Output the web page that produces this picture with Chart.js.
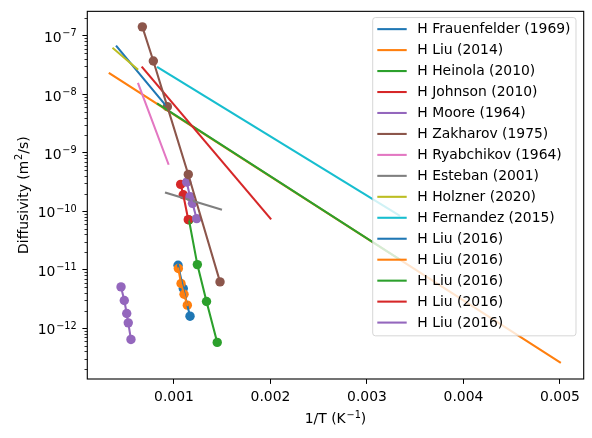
<!DOCTYPE html>
<html>
<head>
<meta charset="utf-8">
<script src="https://cdn.jsdelivr.net/npm/chart.js@4"></script>
<style>
  html, body { margin: 0; padding: 0; background: #fff; }
  #plot { display: block; }
</style>
</head>
<body>
<canvas id="plot" width="592" height="438"></canvas>
<script>
// values (x = 1/T in 1/K, y = diffusivity in m2/s)
const frauenfelderX = [0.000406, 0.000907];
const frauenfelderY = [6.56e-8, 6.65e-9];
const liu2014X = [0.000333, 0.005];
const liu2014Y = [2.28e-8, 2.6e-13];
const heinolaX = [0.000833, 0.003333];
const heinolaY = [6.82e-9, 1.52e-11];
const johnsonX = [0.000672, 0.002];
const johnsonY = [2.88e-8, 7.45e-11];
const mooreX = [0.000451, 0.000485, 0.00051, 0.000526, 0.000554];
const mooreY = [5.07e-12, 2.97e-12, 1.78e-12, 1.23e-12, 6.4e-13];
const zakharovX = [0.000672, 0.000786, 0.000931, 0.001148, 0.001477];
const zakharovY = [1.42e-7, 3.7e-8, 6.14e-9, 4.25e-10, 6.17e-12];
const ryabchikovX = [0.00063, 0.000941];
const ryabchikovY = [1.5e-8, 6.47e-10];
const estebanX = [0.000917, 0.001487];
const estebanY = [2.07e-10, 1.07e-10];
const holznerX = [0.000371, 0.00062];
const holznerY = [6.07e-8, 2.7e-8];
const fernandezX = [0.000833, 0.003333];
const fernandezY = [2.88e-8, 8.47e-11];
const liu16aX = [0.001042, 0.001096, 0.001166];
const liu16aY = [1.19e-11, 4.76e-12, 1.6e-12];
const liu16bX = [0.001045, 0.001073, 0.001104, 0.001138];
const liu16bY = [1.045e-11, 5.79e-12, 3.8e-12, 2.47e-12];
const liu16cX = [0.001155, 0.001242, 0.001337, 0.001448];
const liu16cY = [7.1e-11, 1.22e-11, 2.85e-12, 5.7e-13];
const liu16dX = [0.001069, 0.001096, 0.001148];
const liu16dY = [2.87e-10, 1.91e-10, 7.16e-11];
const liu16eX = [0.001132, 0.001166, 0.001192, 0.001235];
const liu16eY = [3.14e-10, 1.77e-10, 1.36e-10, 7.45e-11];

const xTicks = [0.001, 0.002, 0.003, 0.004, 0.005];
const yTicks = [1e-12, 1e-11, 1e-10, 1e-9, 1e-8, 1e-7];

const tab10 = ["#1f77b4", "#ff7f0e", "#2ca02c", "#d62728", "#9467bd",
  "#8c564b", "#e377c2", "#7f7f7f", "#bcbd22", "#17becf"];

const lines = [
  ["H Frauenfelder (1969)", frauenfelderX, frauenfelderY],
  ["H Liu (2014)", liu2014X, liu2014Y],
  ["H Heinola (2010)", heinolaX, heinolaY],
  ["H Johnson (2010)", johnsonX, johnsonY],
  ["H Moore (1964)", mooreX, mooreY],
  ["H Zakharov (1975)", zakharovX, zakharovY],
  ["H Ryabchikov (1964)", ryabchikovX, ryabchikovY],
  ["H Esteban (2001)", estebanX, estebanY],
  ["H Holzner (2020)", holznerX, holznerY],
  ["H Fernandez (2015)", fernandezX, fernandezY],
  ["H Liu (2016)", liu16aX, liu16aY],
  ["H Liu (2016)", liu16bX, liu16bY],
  ["H Liu (2016)", liu16cX, liu16cY],
  ["H Liu (2016)", liu16dX, liu16dY],
  ["H Liu (2016)", liu16eX, liu16eY],
];

// point markers, drawn beneath the lines
const markers = [
  [liu16aX, liu16aY, tab10[0]],
  [liu16bX, liu16bY, tab10[1]],
  [liu16cX, liu16cY, tab10[2]],
  [liu16dX, liu16dY, tab10[3]],
  [liu16eX, liu16eY, tab10[4]],
  [zakharovX, zakharovY, tab10[5]],
  [mooreX, mooreY, tab10[4]],
];

function pts(xs, ys) {
  return xs.map(function (x, i) {
    return { x: x, y: ys[i] };
  });
}

const datasets = [];
lines.forEach(function (l, i) {
  datasets.push({
    label: l[0],
    data: pts(l[1], l[2]),
    showLine: true,
    borderColor: tab10[i % 10],
    backgroundColor: tab10[i % 10],
    borderWidth: 2.08,
    borderCapStyle: "square",
    pointRadius: 0,
    order: 100 - i,
  });
});
markers.forEach(function (m, j) {
  datasets.push({
    label: "",
    isMarker: true,
    data: pts(m[0], m[1]),
    showLine: false,
    pointRadius: 4.7,
    pointBorderWidth: 0,
    pointBackgroundColor: m[2],
    order: 200 - j,
  });
});

const FONT = "DejaVu Sans";
const FS = 13.9;
const SUP = FS * 0.7;
const MINUS = "\u2212";

// text with superscript parts, like matplotlib mathtext: parts = [[text, isSup], ...]
function mathWidth(ctx, parts) {
  let w = 0;
  parts.forEach(function (p) {
    ctx.font = (p[1] ? SUP : FS) + "px '" + FONT + "'";
    w += ctx.measureText(p[0]).width + (p[1] ? 0.8 : 0);
  });
  return w;
}
function drawMath(ctx, parts, x, y, align) {
  const w = mathWidth(ctx, parts);
  let cx = align === "right" ? x - w : align === "center" ? x - w / 2 : x;
  ctx.textAlign = "left";
  ctx.textBaseline = "alphabetic";
  parts.forEach(function (p) {
    ctx.font = (p[1] ? SUP : FS) + "px '" + FONT + "'";
    if (p[1]) cx += 0.8;
    ctx.fillText(p[0], cx, p[1] ? y - 5.6 : y);
    cx += ctx.measureText(p[0]).width;
  });
}

const framePlugin = {
  id: "frame",
  afterDatasetsDraw(chart) {
    const ctx = chart.ctx;
    const a = chart.chartArea;
    const ys = chart.scales.y;
    ctx.save();
    // minor ticks on the log axis
    ctx.strokeStyle = "#000";
    ctx.lineWidth = 0.8;
    for (let e = -14; e <= -6; e++) {
      for (let k = 2; k <= 9; k++) {
        const v = k * Math.pow(10, e);
        if (v < ys.min || v > ys.max) continue;
        const py = Math.round(ys.getPixelForValue(v)) + 0.5;
        ctx.beginPath();
        ctx.moveTo(a.left - 2.8, py);
        ctx.lineTo(a.left, py);
        ctx.stroke();
      }
    }
    // spines
    ctx.lineWidth = 1.1;
    ctx.strokeRect(a.left, a.top, a.right - a.left, a.bottom - a.top);

    // y tick labels 10^n
    ctx.fillStyle = "#000";
    yTicks.forEach(function (v) {
      const py = ys.getPixelForValue(v);
      const e = Math.round(Math.log10(v));
      drawMath(ctx, [["10", false], [MINUS + Math.abs(e), true]], a.left - 10.6, py + 6.3, "right");
    });

    // axis titles
    drawMath(ctx, [["1/T (K", false], [MINUS + "1", true], [")", false]], (a.left + a.right) / 2, 423.3, "center");
    ctx.save();
    ctx.translate(27.7, (a.top + a.bottom) / 2);
    ctx.rotate(-Math.PI / 2);
    drawMath(ctx, [["Diffusivity (m", false], ["2", true], ["/s)", false]], 0, 0, "center");
    ctx.restore();

    // legend in the upper right corner
    const items = chart.data.datasets.filter(function (d) { return !d.isMarker; });
    const x1 = a.right - 7.7, y0 = a.top + 6.2;
    const x0 = x1 - 203.3, rowH = 20.96;
    const y1 = y0 + 318.3;
    ctx.beginPath();
    ctx.roundRect(x0, y0, x1 - x0, y1 - y0, 2.8);
    ctx.fillStyle = "rgba(255,255,255,0.8)";
    ctx.fill();
    ctx.strokeStyle = "rgba(204,204,204,0.8)";
    ctx.lineWidth = 1;
    ctx.stroke();
    ctx.font = FS + "px '" + FONT + "'";
    ctx.textBaseline = "middle";
    ctx.textAlign = "left";
    items.forEach(function (d, i) {
      const cy = y0 + 11.6 + i * rowH;
      ctx.strokeStyle = d.borderColor;
      ctx.lineWidth = 2.08;
      ctx.beginPath();
      ctx.moveTo(x0 + 4.6, cy);
      ctx.lineTo(x0 + 34, cy);
      ctx.stroke();
      ctx.fillStyle = "#000";
      ctx.fillText(d.label, x0 + 44.6, cy + 0.5);
    });
    ctx.restore();
  },
};

new Chart(document.getElementById("plot"), {
  type: "scatter",
  data: { datasets: datasets },
  options: {
    responsive: false,
    animation: false,
    layout: { padding: { top: 10.5, right: 8.3, left: 0, bottom: 0 } },
    plugins: { legend: { display: false }, tooltip: { enabled: false } },
    scales: {
      x: {
        type: "linear",
        min: 0.0001015,
        max: 0.005246,
        afterBuildTicks: function (s) {
          s.ticks = xTicks.map(function (v) { return { value: v }; });
        },
        afterFit: function (s) { s.height = 59; },
        grid: { drawOnChartArea: false, drawTicks: true, tickLength: 4.9, tickColor: "#000", tickWidth: 1 },
        border: { display: false },
        ticks: {
          color: "#000",
          padding: 4.9,
          maxRotation: 0,
          font: { family: FONT, size: FS },
          callback: function (v) { return v.toFixed(3); },
        },
      },
      y: {
        type: "logarithmic",
        min: 1.348e-13,
        max: 2.618e-7,
        afterBuildTicks: function (s) {
          s.ticks = yTicks.map(function (v) { return { value: v }; });
        },
        afterFit: function (s) { s.width = 87.3; },
        grid: { drawOnChartArea: false, drawTicks: true, tickLength: 4.9, tickColor: "#000", tickWidth: 1 },
        border: { display: false },
        ticks: {
          autoSkip: false,
          font: { family: FONT, size: FS },
          // labels are drawn by the frame plugin with raised exponents
          callback: function () { return ""; },
        },
      },
    },
  },
  plugins: [framePlugin],
});
</script>
</body>
</html>
